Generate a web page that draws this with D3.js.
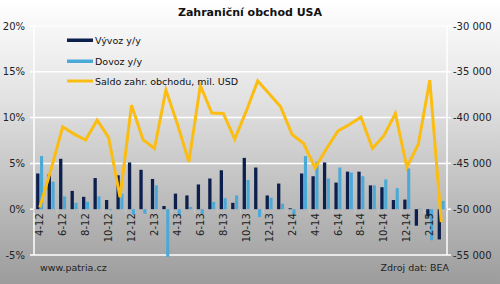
<!DOCTYPE html>
<html><head><meta charset="utf-8">
<script src="https://cdn.jsdelivr.net/npm/d3@7/dist/d3.min.js"></script>
<style>html,body{margin:0;padding:0;background:#fff}svg{display:block}</style>
</head><body><svg id="c" width="500" height="284"></svg>
<script>
const months = ["4-12","5-12","6-12","7-12","8-12","9-12","10-12","11-12","12-12","1-13","2-13","3-13","4-13","5-13","6-13","7-13","8-13","9-13","10-13","11-13","12-13","1-14","2-14","3-14","4-14","5-14","6-14","7-14","8-14","9-14","10-14","11-14","12-14","1-15","2-15","3-15"];
const exportsYoY = [3.9,3.8,5.5,2.0,1.35,3.4,1.0,3.7,5.1,4.3,3.3,0.35,1.7,1.5,2.7,3.35,4.25,0.7,5.6,4.55,1.5,2.8,0.1,3.9,3.6,5.1,2.9,4.1,4.1,2.6,2.4,1.0,1.05,-1.8,-0.8,-3.3];
const importsYoY = [5.8,3.0,1.4,0.7,0.8,1.4,-0.1,1.7,-0.6,-0.5,2.6,-5.2,-0.7,0.25,-0.55,0.8,1.2,1.5,3.2,-0.85,1.25,0.6,-0.55,5.8,5.2,3.35,4.55,4.0,3.6,2.6,3.25,2.3,4.45,0.05,-3.4,0.9];
const balance = [-49800,-45600,-41000,-41800,-42450,-40280,-42150,-48700,-38650,-42400,-43370,-37000,-40700,-44840,-36500,-39500,-39550,-42350,-39300,-36000,-37400,-38830,-41850,-42830,-45500,-43400,-41450,-40750,-39950,-43370,-41980,-39550,-45400,-42900,-35920,-51400];
const leftTicks = [20,15,10,5,0,-5];
const rightTicks = [-30000,-35000,-40000,-45000,-50000,-55000];
const legendLabels = ["Vývoz y/y","Dovoz y/y","Saldo zahr. obchodu, mil. USD"];
const titleText = "Zahraniční obchod USA";

const svg = d3.select("#c");
const W=500,H=284, L=34, R=447, T=26, B=255;
const defs = svg.append("defs");
const g = defs.append("linearGradient").attr("id","bg").attr("x1",0).attr("x2",0).attr("y1",0).attr("y2",1);
g.append("stop").attr("offset","0").attr("stop-color","#ffffff");
g.append("stop").attr("offset","0.35").attr("stop-color","#e2e2e2");
g.append("stop").attr("offset","1").attr("stop-color","#9c9c9c");
svg.append("rect").attr("width",W).attr("height",H).attr("fill","url(#bg)");

const x = d3.scaleBand().domain(months).range([L,R]).padding(0);
const y = d3.scaleLinear().domain([-5,20]).range([B,T]);
const y2 = d3.scaleLinear().domain([-55000,-30000]).range([B,T]);
const font = "DejaVu Sans, Verdana, sans-serif";

// grid
svg.append("g").selectAll("line").data(leftTicks.filter(d=>d!==0)).join("line")
  .attr("x1",L-4).attr("x2",R).attr("y1",d=>y(d)).attr("y2",d=>y(d))
  .attr("stroke","#ffffff").attr("stroke-width",1.5).attr("opacity",d=>d===20?0.8:1);
svg.append("line").attr("x1",L-4).attr("x2",L).attr("y1",y(0)).attr("y2",y(0)).attr("stroke","#fff").attr("stroke-width",1.5);
svg.append("line").attr("x1",L).attr("x2",L).attr("y1",T).attr("y2",B).attr("stroke","#fff").attr("stroke-width",1.5);
svg.append("line").attr("x1",R).attr("x2",R).attr("y1",T).attr("y2",B).attr("stroke","#fff").attr("stroke-width",1.5);
svg.append("g").selectAll("line").data(rightTicks).join("line")
  .attr("x1",R).attr("x2",R+4).attr("y1",d=>y2(d)).attr("y2",d=>y2(d)).attr("stroke","#fff").attr("stroke-width",1.5);
// x axis baseline
svg.append("line").attr("x1",L).attr("x2",R).attr("y1",y(0)).attr("y2",y(0)).attr("stroke","#b8b8b8").attr("stroke-width",1);
// x ticks
svg.append("g").selectAll("line").data(months.filter((d,i)=>i%2===0)).join("line")
  .attr("x1",d=>x(d)).attr("x2",d=>x(d)).attr("y1",y(0)).attr("y2",y(0)+4).attr("stroke","#c8c8c8");

// bars
const c = d=>x(d)+x.bandwidth()/2;
svg.append("g").selectAll("rect").data(months).join("rect")
  .attr("x",d=>c(d)-3.6).attr("width",3.3)
  .attr("y",(d,i)=>Math.min(y(exportsYoY[i]),y(0))).attr("height",(d,i)=>Math.abs(y(exportsYoY[i])-y(0)))
  .attr("fill","#0c1f4d");
svg.append("g").selectAll("rect").data(months).join("rect")
  .attr("x",d=>c(d)+0.3).attr("width",3.1)
  .attr("y",(d,i)=>Math.min(y(importsYoY[i]),y(0))).attr("height",(d,i)=>Math.abs(y(importsYoY[i])-y(0)))
  .attr("fill","#4ba9d8");

// line
const line = d3.line().x((d,i)=>c(months[i])).y(d=>y2(d));
svg.append("path").datum(balance).attr("d",line).attr("fill","none")
  .attr("stroke","#fbbd12").attr("stroke-width",3).attr("stroke-linejoin","miter").attr("stroke-miterlimit",4);

// axis labels
svg.append("g").selectAll("text").data(leftTicks).join("text")
  .attr("x",25).attr("y",d=>y(d)+3.5).attr("text-anchor","end")
  .attr("font-family",font).attr("font-size",10).attr("fill","#222").text(d=>d+"%");
svg.append("g").selectAll("text").data(rightTicks).join("text")
  .attr("x",453).attr("y",d=>y2(d)+3.5).attr("text-anchor","start")
  .attr("font-family",font).attr("font-size",10).attr("fill","#222")
  .text(d=>"-"+d3.format(",")(Math.abs(d)).replace(/,/g," "));
svg.append("g").selectAll("text").data(months.filter((d,i)=>i%2===0)).join("text")
  .attr("transform",d=>`translate(${c(d)+3.5},${y(0)+4}) rotate(-90)`)
  .attr("text-anchor","end").attr("font-family",font).attr("font-size",10).attr("fill","#222").text(d=>d);

// title
svg.append("text").attr("x",250).attr("y",16).attr("text-anchor","middle")
  .attr("font-family",font).attr("font-weight","bold").attr("font-size",11).attr("fill","#111").text(titleText);

// legend
const lg = svg.append("g");
const ly = [40,61,81];
lg.append("rect").attr("x",67).attr("y",ly[0]-1.5).attr("width",26).attr("height",3.5).attr("fill","#0c1f4d");
lg.append("rect").attr("x",67).attr("y",ly[1]-1.5).attr("width",26).attr("height",3.5).attr("fill","#4ba9d8");
lg.append("line").attr("x1",67).attr("x2",93).attr("y1",ly[2]).attr("y2",ly[2]).attr("stroke","#fbbd12").attr("stroke-width",3);
lg.selectAll("text").data(legendLabels).join("text")
  .attr("x",95).attr("y",(d,i)=>ly[i]+3.5).attr("font-family",font).attr("font-size",9.5).attr("fill","#111").text(d=>d);

// footer
svg.append("text").attr("x",40).attr("y",271).attr("font-family",font).attr("font-size",9.5).attr("fill","#222").text("www.patria.cz");
svg.append("text").attr("x",449).attr("y",271).attr("text-anchor","end").attr("font-family",font).attr("font-size",9.5).attr("fill","#222").text("Zdroj dat: BEA");
</script></body></html>
